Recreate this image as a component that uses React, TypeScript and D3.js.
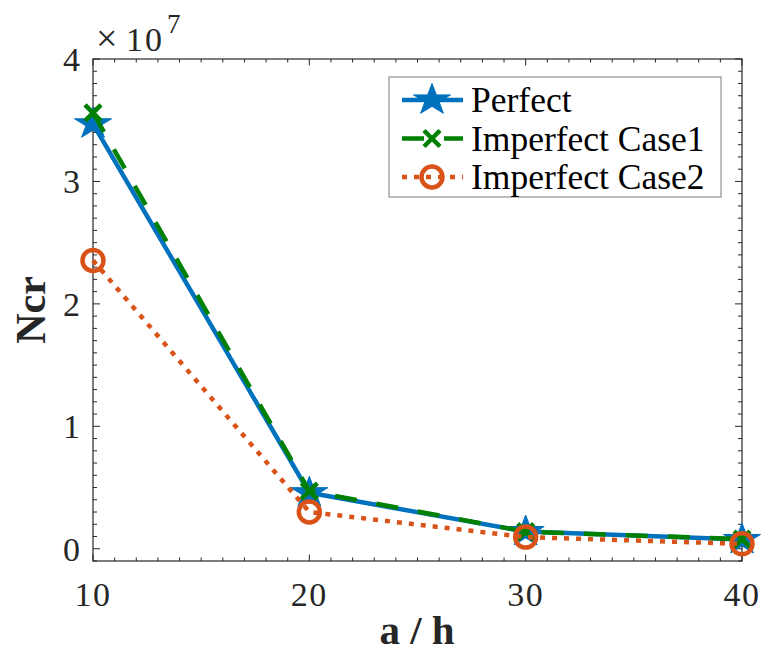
import React from "react";
import * as d3 from "d3";

const xValues = [10, 20, 30, 40];
const perfect = [3.47, 0.457, 0.14, 0.075];
const case1 = [3.56, 0.47, 0.14, 0.078];
const case2 = [2.355, 0.30, 0.095, 0.04];
const xTicks = [10, 20, 30, 40];
const yTicks = [0, 1, 2, 3, 4];
const seriesNames = ["Perfect", "Imperfect Case1", "Imperfect Case2"];

const W = 763;
const H = 653;
const L = 93, R = 742, T = 59, B = 561;
const FONT = "Liberation Serif, DejaVu Serif, Times New Roman, serif";
const AX = "#262626";
const BLUE = "#0072BD";
const GREEN = "#008000";
const ORANGE = "#D95319";

function starPath(cx: number, cy: number, r: number, sx: number) {
  const pts: string[] = [];
  const ri = r * 0.382;
  for (let i = 0; i < 10; i++) {
    const a = -Math.PI / 2 + (i * Math.PI) / 5;
    const rr = i % 2 === 0 ? r : ri;
    pts.push(`${cx + rr * Math.cos(a) * sx},${cy + rr * Math.sin(a)}`);
  }
  return "M" + pts.join("L") + "Z";
}

function Star({ x, y }: { x: number; y: number }) {
  return <path d={starPath(x, y, 16.5, 1.18)} fill={BLUE} stroke={BLUE} strokeWidth={1} />;
}
function Cross({ x, y }: { x: number; y: number }) {
  const s = 8;
  return (
    <path
      d={`M${x - s},${y - s}L${x + s},${y + s}M${x - s},${y + s}L${x + s},${y - s}`}
      stroke={GREEN}
      strokeWidth={4.5}
      fill="none"
    />
  );
}
function Circ({ x, y }: { x: number; y: number }) {
  return <circle cx={x} cy={y} r={10.5} fill="none" stroke={ORANGE} strokeWidth={4.5} />;
}

export default function App() {
  const x = d3.scaleLinear().domain([10, 40]).range([L, R]);
  const y = d3.scaleLinear().domain([-0.1, 4]).range([B, T]);
  const line = d3
    .line<number>()
    .x((_, i) => x(xValues[i]))
    .y((d) => y(d));

  const xMinor = d3.range(10, 41, 1);
  const yMinor = d3.range(-1, 41, 1).map((v) => v / 10);

  const legX = 389, legY = 77, legW = 332, legH = 120;
  const rows = [100, 138.5, 177];

  return (
    <svg
      width={W}
      height={H}
      style={{ position: "absolute", left: 0, top: 0, background: "#fff" }}
    >
      <rect x={0} y={0} width={W} height={H} fill="#fff" />
      <g stroke={AX} strokeWidth={1}>
        {xMinor.map((v) => {
          const major = xTicks.includes(v);
          const len = major ? 6.5 : 3.5;
          return (
            <g key={"xm" + v}>
              <line x1={x(v)} x2={x(v)} y1={B} y2={B - len} />
              <line x1={x(v)} x2={x(v)} y1={T} y2={T + len} />
            </g>
          );
        })}
        {yMinor.map((v) => {
          const major = yTicks.some((t) => Math.abs(t - v) < 1e-9);
          const len = major ? 7 : 4;
          return (
            <g key={"ym" + v}>
              <line x1={L} x2={L + len} y1={y(v)} y2={y(v)} />
              <line x1={R} x2={R - len} y1={y(v)} y2={y(v)} />
            </g>
          );
        })}
      </g>
      <rect x={L} y={T} width={R - L} height={B - T} fill="none" stroke={AX} strokeWidth={1.2} />

      <g fontFamily={FONT} fontSize={34} fill={AX}>
        {xTicks.map((t) => (
          <text key={"xt" + t} x={x(t)} y={606} textAnchor="middle" letterSpacing={1.5}>
            {t}
          </text>
        ))}
        {yTicks.map((t) => (
          <text key={"yt" + t} x={80} y={y(t) + 12} textAnchor="end">
            {t}
          </text>
        ))}
        <text x={96} y={51} fontSize={38}>
          ×
        </text>
        <text x={126} y={51} letterSpacing={2}>
          10
        </text>
        <text x={167} y={33} fontSize={27}>
          7
        </text>
      </g>

      <text
        x={417}
        y={644}
        textAnchor="middle"
        fontFamily={FONT}
        fontWeight="bold"
        fontSize={41}
        fill={AX}
      >
        a / h
      </text>
      <text
        transform={`translate(45,310) rotate(-90)`}
        textAnchor="middle"
        fontFamily={FONT}
        fontWeight="bold"
        fontSize={42}
        fill={AX}
      >
        Ncr
      </text>

      <path d={line(perfect) || ""} fill="none" stroke={BLUE} strokeWidth={4.5} strokeLinejoin="round" />
      {perfect.map((v, i) => (
        <Star key={"s" + i} x={x(xValues[i])} y={y(v)} />
      ))}
      <path d={line(case1) || ""} fill="none" stroke={GREEN} strokeWidth={4.5} strokeDasharray="22,20" />
      {case1.map((v, i) => (
        <Cross key={"c" + i} x={x(xValues[i])} y={y(v)} />
      ))}
      <path d={line(case2) || ""} fill="none" stroke={ORANGE} strokeWidth={4.5} strokeDasharray="5,7" />
      {case2.map((v, i) => (
        <Circ key={"o" + i} x={x(xValues[i])} y={y(v)} />
      ))}

      <rect x={legX} y={legY} width={legW} height={legH} fill="#fff" stroke="#7a7a7a" strokeWidth={1} />
      <line x1={402} x2={463} y1={rows[0]} y2={rows[0]} stroke={BLUE} strokeWidth={4.5} />
      <Star x={432} y={rows[0]} />
      <line x1={402} x2={463} y1={rows[1]} y2={rows[1]} stroke={GREEN} strokeWidth={4.5} strokeDasharray="22,20" />
      <Cross x={432} y={rows[1]} />
      <line x1={402} x2={463} y1={rows[2]} y2={rows[2]} stroke={ORANGE} strokeWidth={4.5} strokeDasharray="5,7" />
      <Circ x={432} y={rows[2]} />
      <g fontFamily={FONT} fontSize={35.5} fill="#000">
        {seriesNames.map((n, i) => (
          <text key={n} x={471} y={rows[i] + 12}>
            {n}
          </text>
        ))}
      </g>
    </svg>
  );
}
